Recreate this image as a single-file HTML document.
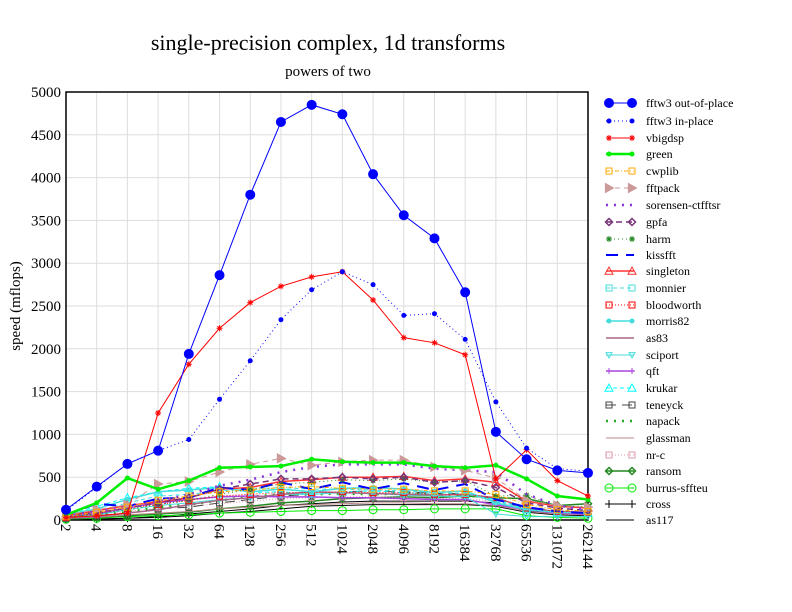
<!DOCTYPE html>
<html><head><meta charset="utf-8"><style>body{margin:0;background:#fff}svg{display:block}text{font-family:"Liberation Serif",serif;fill:#000}</style></head>
<body><svg id="s" width="792" height="612" xmlns="http://www.w3.org/2000/svg">
<text x="328" y="50" font-size="22" text-anchor="middle">single-precision complex, 1d transforms</text>
<text x="328" y="76" font-size="15" text-anchor="middle">powers of two</text>
<text transform="translate(20,306) rotate(-90)" font-size="15" text-anchor="middle">speed (mflops)</text>
</svg>
<script>
const s=document.getElementById('s'),NS='http://www.w3.org/2000/svg';
function el(t,a,p){const e=document.createElementNS(NS,t);for(const k in a)e.setAttribute(k,a[k]);(p||s).appendChild(e);return e;}
const X0=66,X1=588,Y0=520,Y1=92;
const xs=i=>X0+i*(X1-X0)/17, ys=v=>Y0-v*(Y0-Y1)/5000;
const labs=[2,4,8,16,32,64,128,256,512,1024,2048,4096,8192,16384,32768,65536,131072,262144];
for(let i=0;i<18;i++){el('line',{x1:xs(i),x2:xs(i),y1:Y1,y2:Y0,stroke:'#ddd'});
const t=el('text',{transform:`translate(${xs(i)-5},${Y0+4}) rotate(90)`,'font-size':15});t.textContent=labs[i];}
for(let v=0;v<=5000;v+=500){el('line',{x1:X0,x2:X1,y1:ys(v),y2:ys(v),stroke:'#ddd'});
const t=el('text',{x:X0-5,y:ys(v)+5,'font-size':15,'text-anchor':'end'});t.textContent=v;}
el('rect',{x:X0,y:Y1,width:X1-X0,height:Y0-Y1,fill:'none',stroke:'#000','stroke-width':1.5});
const S=[
['fftw3 out-of-place','#00f','','circle',4.5,[120,390,655,810,1940,2860,3800,4650,4850,4740,4040,3560,3290,2660,1030,710,580,550],1],
['fftw3 in-place','#00f','1,3','dot',2.5,[110,380,660,810,940,1410,1860,2340,2690,2900,2750,2390,2410,2110,1380,840,600,570],1],
['vbigdsp','#f00','','star',3,[30,50,80,1250,1820,2240,2540,2730,2840,2900,2570,2130,2070,1930,480,820,460,280],1],
['green','#0e0','','dot',2.5,[60,200,490,360,460,610,620,630,710,680,670,670,630,610,640,480,280,240],2.5],
['cwplib','#fa0','4,2,1,2','square',3,[40,90,150,230,280,330,350,380,390,370,360,360,340,340,300,180,120,100],1],
['fftpack','#c99','5,4','rtri',4.5,[60,120,180,420,450,560,650,720,640,680,700,700,620,580,490,230,170,150],1],
['sorensen-ctfftsr','#83d','2,6','none',0,[50,100,150,220,300,400,470,560,620,650,650,650,600,580,560,300,170,120],2.5],
['gpfa','#737','6,4','diam',3.5,[40,90,140,200,260,360,420,480,480,500,480,500,440,460,380,200,140,110],1.5],
['harm','#282','1,3','star',3,[30,70,120,180,230,300,360,420,440,470,460,480,440,460,280,290,160,160],1],
['kissfft','#00f','12,8','none',0,[60,190,160,250,260,380,350,440,360,440,360,430,350,420,240,150,100,80],2],
['singleton','#f33','','tri',4,[50,110,170,210,260,360,380,450,470,500,500,510,460,480,440,220,160,140],1.5],
['monnier','#4dd','4,3','square',3,[40,100,200,280,300,340,360,380,360,360,350,340,320,310,220,120,90,80],1],
['bloodworth','#f00','1,2','square',3,[30,80,140,180,230,280,300,320,320,330,320,320,300,300,260,140,100,90],1],
['morris82','#4dd','','dot',2.5,[60,130,240,330,350,380,330,360,330,370,380,360,320,340,200,120,90,80],1.5],
['as83','#a68','','none',0,[20,40,80,120,180,230,260,300,330,320,310,300,290,300,260,140,100,90],1.5],
['sciport','#4dd','','vtri',3,[30,60,120,170,200,240,260,300,300,320,310,290,280,270,70,40,40,40],1],
['qft','#a4d','','plus',3,[30,70,140,200,240,270,280,270,270,260,260,250,240,240,180,120,80,70],1.5],
['krukar','#0ff','4,3','tri',4,[50,160,260,330,370,390,320,330,300,330,340,320,300,300,240,130,90,80],1],
['teneyck','#444','10,6','square',3,[20,50,80,130,150,200,240,280,300,330,340,330,310,310,240,130,90,80],1],
['napack','#2a2','2,6','none',0,[30,60,90,150,180,230,270,300,300,310,300,310,290,290,250,140,100,90],2.5],
['glassman','#b88','','none',0,[20,30,60,80,100,130,150,170,180,190,200,200,190,190,170,100,70,60],1],
['nr-c','#d9a','1,2','square',3,[20,60,100,140,160,190,220,250,260,270,270,260,250,250,220,130,90,80],1],
['ransom','#282','','diam',3.5,[10,30,50,70,90,130,160,200,220,250,260,270,260,280,260,250,170,190],1.5],
['burrus-sffteu','#0e0','','circle',4,[10,20,40,50,60,80,90,100,110,110,120,120,130,130,130,50,30,20],1],
['cross','#000','','plus',4,[5,10,20,40,70,100,130,170,190,210,220,220,220,220,200,110,80,70],1],
['as117','#000','','none',0,[5,10,20,30,50,80,100,130,160,170,180,180,180,180,160,90,60,50],1]
];
function mark(m,x,y,r,c,g){
 if(m=='circle')el('circle',{cx:x,cy:y,r:r,fill:r>4?c:'none',stroke:c},g);
 else if(m=='dot')el('circle',{cx:x,cy:y,r:r,fill:c},g);
 else if(m=='square')el('rect',{x:x-r,y:y-r,width:2*r,height:2*r,fill:'none',stroke:c},g);
 else if(m=='tri')el('polygon',{points:`${x-r},${y+r*.8} ${x+r},${y+r*.8} ${x},${y-r}`,fill:'none',stroke:c},g);
 else if(m=='rtri')el('polygon',{points:`${x-r*.8},${y-r} ${x-r*.8},${y+r} ${x+r},${y}`,fill:c,stroke:c},g);
 else if(m=='vtri')el('polygon',{points:`${x-r},${y-r*.8} ${x+r},${y-r*.8} ${x},${y+r}`,fill:'none',stroke:c},g);
 else if(m=='diam')el('polygon',{points:`${x-r},${y} ${x},${y-r} ${x+r},${y} ${x},${y+r}`,fill:'none',stroke:c,'stroke-width':1.5},g);
 else if(m=='star'||m=='plus'){el('path',{d:`M${x-r} ${y}H${x+r}M${x} ${y-r}V${y+r}`+(m=='star'?`M${x-r*.7} ${y-r*.7}L${x+r*.7} ${y+r*.7}M${x-r*.7} ${y+r*.7}L${x+r*.7} ${y-r*.7}`:''),stroke:c},g);}
}
const LY=[103,121,138,154,171,188,205,222,239,255,271,288,305,321,338,355,371,388,405,421,438,455,471,488,504,520];
for(let k=S.length-1;k>=0;k--){const [n,c,d,m,r,v,w]=S[k];const g=el('g',{});
 el('polyline',{points:v.map((y,i)=>xs(i)+','+ys(y)).join(' '),fill:'none',stroke:c,'stroke-width':w,'stroke-dasharray':d},g);
 if(m!='none')v.forEach((y,i)=>mark(m,xs(i),ys(y),r,c,g));
}
S.forEach(([n,c,d,m,r,v,w],k)=>{const y=LY[k];
 el('line',{x1:606,x2:634,y1:y,y2:y,stroke:c,'stroke-width':w,'stroke-dasharray':d});
 if(m!='none'){mark(m,609,y,r,c);mark(m,632,y,r,c);}
 const t=el('text',{x:646,y:y+4,'font-size':12});t.textContent=n;});
</script></body></html>
